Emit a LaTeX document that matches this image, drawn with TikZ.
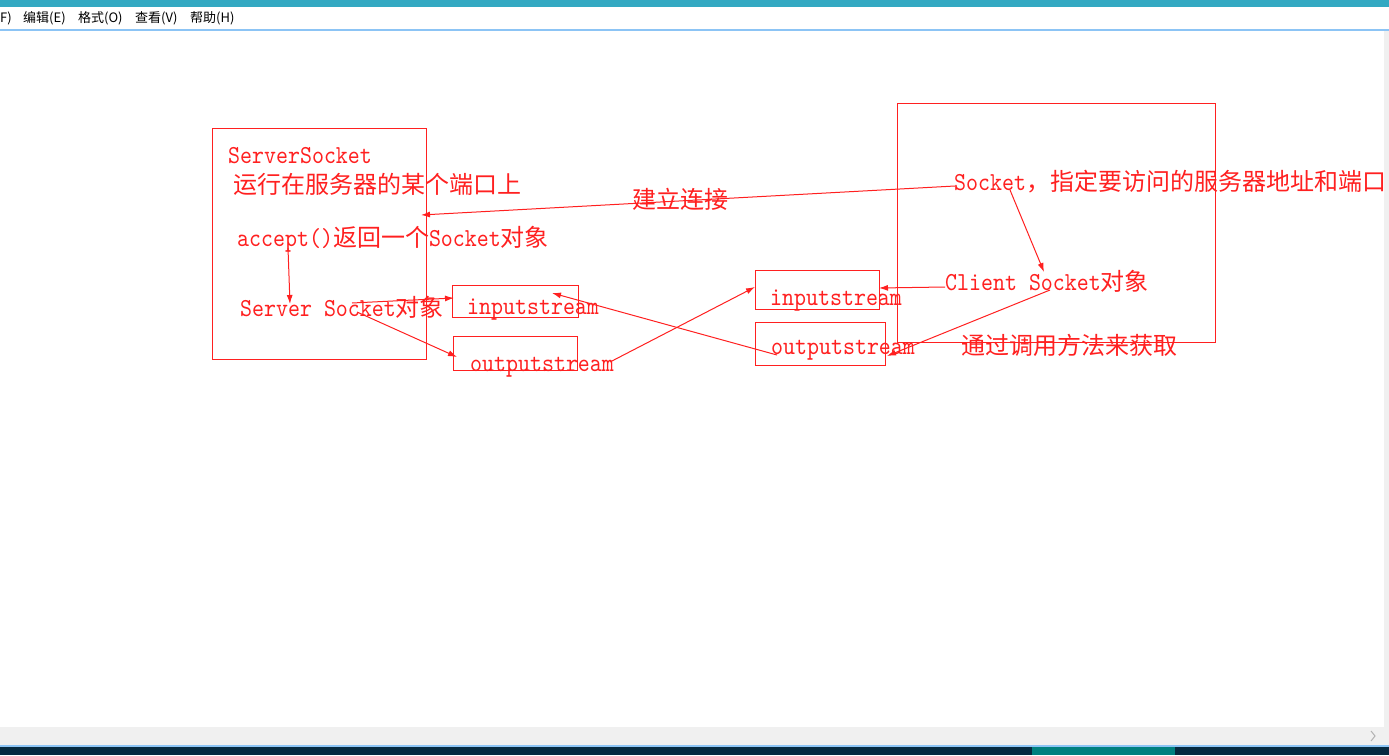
\documentclass[tikz,border=0pt]{standalone}
\usepackage{fontspec}
\usetikzlibrary{arrows.meta}
\newfontfamily\cjkf{Noto Sans CJK SC}
\newfontfamily\latf{lmmono10-regular.otf}[FakeStretch=0.88,Scale=1.08]
\newcommand{\cj}{\cjkf}
\newcommand{\la}{\latf}
\definecolor{titlebar}{HTML}{33A9C2}
\definecolor{menuline}{HTML}{8CC4F5}
\definecolor{taskbar}{HTML}{062A40}
\definecolor{taskteal}{HTML}{00807F}
\definecolor{stripgray}{HTML}{F0F0F0}
\definecolor{penred}{HTML}{FF2020}
\tikzset{
  box/.style={draw=penred, line width=1bp},
  arr/.style={draw=penred, line width=1bp, -{Latex[length=9bp,width=6bp]}},
  lbl/.style={text=penred, anchor=base west, inner sep=0pt, font=\fontsize{24bp}{24bp}\selectfont},
  menu/.style={text=black, anchor=base west, inner sep=0pt, font=\cjkf\fontsize{13bp}{13bp}\selectfont}
}
\begin{document}
\begin{tikzpicture}[x=1bp,y=-1bp]
\useasboundingbox (0,0) rectangle (1389,755);
% window chrome
\fill[white] (0,0) rectangle (1389,755);
\fill[titlebar] (0,0) rectangle (1389,7);
\fill[menuline] (0,29.5) rectangle (1389,31);
\fill[stripgray] (1384,31) rectangle (1389,727);
\fill[stripgray] (0,727) rectangle (1389,745);
\fill[menuline] (0,745) rectangle (1389,747);
\fill[taskbar] (0,747) rectangle (1389,755);
\fill[taskteal] (1032,747) rectangle (1175,755);
\draw[gray!60, line width=1bp] (1371,731) -- (1375,736) -- (1371,741);
% menu
\node[menu] (mfile) at (0,23) {F)};
\node[menu] (medit) at (23,23) {编辑(E)};
\node[menu] (mformat) at (78,23) {格式(O)};
\node[menu] (mview) at (135,23) {查看(V)};
\node[menu] (mhelp) at (190,23) {帮助(H)};
% boxes
\draw[box] (212,128) rectangle (426,359);
\draw[box] (897,103) rectangle (1215,342);
\draw[box] (452,285) rectangle (578,317);
\draw[box] (453,336) rectangle (577,370);
\draw[box] (755,270) rectangle (879,309);
\draw[box] (755,322) rectangle (885,365);
% texts
\node[lbl] (t1) at (228,163) {\la ServerSocket};
\node[lbl] (t2) at (233,193) {\cj 运行在服务器的某个端口上};
\node[lbl] (t3) at (237,246) {\la accept()\cj 返回一个\la Socket\cj 对象};
\node[lbl] (t4) at (240,316) {\la Server Socket\cj 对象};
\node[lbl] (t5) at (467,314) {\la inputstream};
\node[lbl] (t6) at (470,371) {\la outputstream};
\node[lbl] (t7) at (632,208) {\cj 建立连接};
\node[lbl] (t8) at (954,190) {\la Socket\cj ，指定要访问的服务器地址和端口};
\node[lbl] (t9) at (945,290) {\la Client Socket\cj 对象};
\node[lbl] (t10) at (770,305) {\la inputstream};
\node[lbl] (t11) at (771,354) {\la outputstream};
\node[lbl] (t12) at (961,354) {\cj 通过调用方法来获取};
% connector endpoints
\coordinate (sockStart) at (955,186);
\coordinate (serverIn) at (421,215);
\coordinate (acceptOut) at (288,248);
\coordinate (ssIn) at (290,304);
\coordinate (ssOutA) at (352,303);
\coordinate (inLeftIn) at (454,298);
\coordinate (ssOutB) at (357,312);
\coordinate (outLeftIn) at (457,357);
\coordinate (outLeftOut) at (610,362);
\coordinate (inRightIn) at (755,287);
\coordinate (outRightOut) at (777,355);
\coordinate (inLeftTarget) at (552,293);
\coordinate (csOutA) at (1050,290);
\coordinate (outRightIn) at (887,356);
\coordinate (csOutB) at (945,287);
\coordinate (inRightTarget) at (879,288);
\coordinate (sockOut) at (1010,190);
\coordinate (csIn) at (1044,272);
% connectors
\draw[arr] (sockStart) -- (serverIn);
\draw[arr] (acceptOut) -- (ssIn);
\draw[arr] (ssOutA) -- (inLeftIn);
\draw[arr] (ssOutB) -- (outLeftIn);
\draw[arr] (outLeftOut) -- (inRightIn);
\draw[arr] (outRightOut) -- (inLeftTarget);
\draw[arr] (csOutA) -- (outRightIn);
\draw[arr] (csOutB) -- (inRightTarget);
\draw[arr] (sockOut) -- (csIn);
\end{tikzpicture}
\end{document}
